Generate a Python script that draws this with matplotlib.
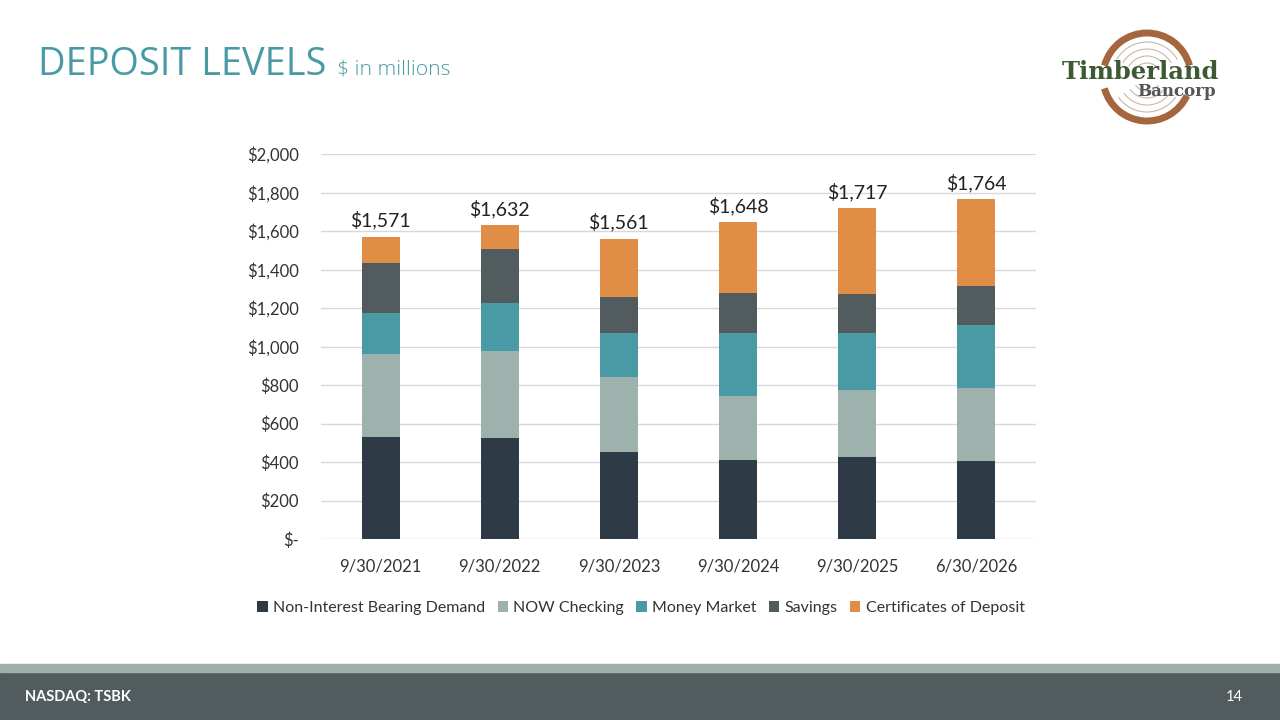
import matplotlib
matplotlib.use("Agg")
import matplotlib.pyplot as plt
from matplotlib.patches import Arc, Rectangle
from matplotlib.ticker import FuncFormatter, MultipleLocator
import numpy as np

categories = ["9/30/2021", "9/30/2022", "9/30/2023", "9/30/2024", "9/30/2025", "6/30/2026"]
series_names = ["Non-Interest Bearing Demand", "NOW Checking", "Money Market", "Savings", "Certificates of Deposit"]
non_interest = [531, 526, 452, 410, 426, 405]
now_checking = [430, 451, 391, 333, 348, 379]
money_market = [213, 249, 227, 327, 296, 328]
savings = [260, 281, 187, 208, 203, 202]
cds = [137, 125, 304, 370, 444, 450]
totals = [1571, 1632, 1561, 1648, 1717, 1764]
colors = ["#2E3B46", "#9DB2AC", "#4A9AA5", "#525B5E", "#E08E45"]

FONT = ["Lato", "DejaVu Sans"]
plt.rcParams["font.family"] = FONT

W, H = 1280, 720
fig = plt.figure(figsize=(12.8, 7.2), dpi=100)
fig.patch.set_facecolor("white")

def fx(px):
    return px / W

def fy(py):
    return 1 - py / H

# Title
fig.text(fx(38), fy(75), "DEPOSIT LEVELS", fontsize=27.3, color="#4A9AA5",
         family=["Open Sans", "DejaVu Sans"], va="baseline", ha="left")
fig.text(fx(337), fy(75), "$ in millions", fontsize=15.2, color="#4A9AA5",
         family=["Open Sans", "DejaVu Sans"], va="baseline", ha="left", fontweight="light")

# Chart axes
ax = fig.add_axes([fx(321), fy(539), fx(1036) - fx(321), (539 - 154) / H])
x = np.arange(len(categories))
series = [non_interest, now_checking, money_market, savings, cds]
bottom = np.zeros(len(categories))
for name, vals, c in zip(series_names, series, colors):
    ax.bar(x, vals, width=0.32, bottom=bottom, color=c, label=name, zorder=3)
    bottom += np.array(vals)

for xi, t, top in zip(x, totals, bottom):
    ax.text(xi, top + 35, f"${t:,}", ha="center", va="bottom", fontsize=14, color="#222222")

ax.set_ylim(0, 2000)
ax.set_xlim(-0.5, len(categories) - 0.5)
ax.yaxis.set_major_locator(MultipleLocator(200))
ax.yaxis.set_major_formatter(FuncFormatter(lambda v, p: "$-" if v == 0 else f"${int(v):,}"))
ax.grid(axis="y", color="#D9D9D9", linewidth=1, zorder=0)
for s in ax.spines.values():
    s.set_visible(False)
ax.tick_params(axis="both", length=0, labelsize=12, colors="#333333")
ax.tick_params(axis="y", pad=16)
ax.tick_params(axis="x", pad=14)
ax.set_xticks(x)
ax.set_xticklabels(categories)
ax.set_facecolor("white")

handles, labels = ax.get_legend_handles_labels()
leg = fig.legend(handles, labels, loc="center", bbox_to_anchor=(fx(641), fy(608)), ncol=5,
                 frameon=False, fontsize=11.5, handlelength=0.65, handleheight=0.65,
                 handletextpad=0.35, columnspacing=0.75)
for t in leg.get_texts():
    t.set_color("#333333")

# Footer
fig.patches.append(Rectangle((0, 0), 1, fy(672), transform=fig.transFigure, color="#525B5E", zorder=0))
fig.patches.append(Rectangle((0, fy(672)), 1, (672 - 664) / H, transform=fig.transFigure, color="#9DB0AA", zorder=0))
fig.text(fx(25), fy(697), "NASDAQ: TSBK", color="white", fontsize=10.5, fontweight="bold", va="center", ha="left")
fig.text(fx(1243), fy(697), "14", color="white", fontsize=10.5, va="center", ha="right")

# Logo
lax = fig.add_axes([fx(1080), fy(130), fx(160), 110 / H])
lax.set_xlim(-80, 80)
lax.set_ylim(-55, 55)
lax.set_aspect("equal")
lax.axis("off")
brown = "#A5653D"
cx, cy = -13, -2
lax.add_patch(Arc((cx, cy), 88, 88, theta1=15, theta2=165, color=brown, lw=5))
lax.add_patch(Arc((cx, cy), 88, 88, theta1=195, theta2=335, color=brown, lw=5))
for r in [70, 56, 42, 28]:
    lax.add_patch(Arc((cx, cy), r, r, theta1=30, theta2=150, color="#C9B7A8", lw=0.8))
    lax.add_patch(Arc((cx, cy), r, r, theta1=215, theta2=325, color="#C9B7A8", lw=0.8))
lax.text(-20, 3, "Timberland", ha="center", va="center", fontsize=17.5, fontweight="bold",
         color="#3D5A34", family=["DejaVu Serif"])
lax.text(17, -17, "Bancorp", ha="center", va="center", fontsize=12, fontweight="bold",
         color="#555555", family=["DejaVu Serif"])

fig.savefig("out.png", dpi=100, facecolor="white")
